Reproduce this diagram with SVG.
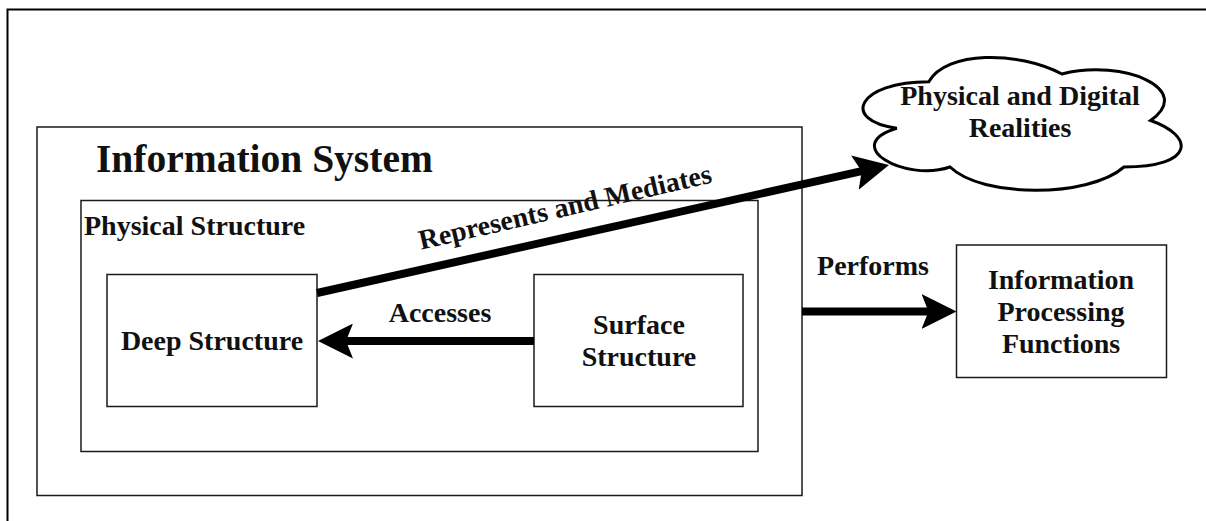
<svg xmlns="http://www.w3.org/2000/svg" width="1206" height="521" viewBox="0 0 1206 521">
  <style>
    .box { fill: #ffffff; stroke: #1a1a1a; stroke-width: 1.5; }
    .lbl { font-family: "Liberation Serif", "Times New Roman", serif; font-weight: bold; font-size: 28px; fill: #111111; }
    .mid { text-anchor: middle; }
    .title { font-size: 39.5px; }
    .edge { fill: none; stroke: #000000; stroke-width: 8; }
  </style>
  <defs>
    <!-- classic notched arrowhead, 35 long, 35 wide; line ends 20 before the tip -->
    <marker id="arrow" markerUnits="userSpaceOnUse" viewBox="0 0 35 35" markerWidth="35" markerHeight="35" refX="15" refY="17.5" orient="auto">
      <path d="M35,17.5 L0,0 L7,17.5 L0,35 Z" fill="#000000"/>
    </marker>
  </defs>

  <rect width="1206" height="521" fill="#ffffff"/>

  <!-- page frame (top and left edges) -->
  <path d="M7.5,521 L7.5,9.5 L1206,9.5" fill="none" stroke="#000000" stroke-width="2"/>

  <g id="information-system">
    <rect class="box" x="37" y="127" width="765" height="368.5"/>
    <text class="lbl title" x="96" y="172">Information System</text>
  </g>

  <g id="physical-structure">
    <rect class="box" x="81" y="200.5" width="677" height="251"/>
    <text class="lbl" x="84" y="235">Physical Structure</text>
  </g>

  <g id="deep-structure">
    <rect class="box" x="107" y="274.5" width="210" height="132"/>
    <text class="lbl mid" x="212" y="350">Deep Structure</text>
  </g>

  <g id="surface-structure">
    <rect class="box" x="534" y="274.5" width="209" height="132"/>
    <text class="lbl mid" x="639" y="334">Surface</text>
    <text class="lbl mid" x="639" y="366">Structure</text>
  </g>

  <g id="information-processing-functions">
    <rect class="box" x="956.5" y="245" width="210" height="132.5"/>
    <text class="lbl mid" x="1061" y="289">Information</text>
    <text class="lbl mid" x="1061" y="321">Processing</text>
    <text class="lbl mid" x="1061" y="353">Functions</text>
  </g>

  <g id="physical-and-digital-realities">
    <path d="M928.75,81.75 C857.75,81.75 840,120.5 896.8,128.25 C840,145.3 903.9,182.5 950.05,167 C982,198 1088.5,198 1124,167 C1195,167 1195,136 1150.6,120.5 C1195,89.5 1124,58.5 1061.9,74 C1017.5,50.75 946.5,50.75 928.75,81.75 Z" fill="#ffffff" stroke="#000000" stroke-width="3"/>
    <text class="lbl mid" x="1020" y="105">Physical and Digital</text>
    <text class="lbl mid" x="1020" y="137">Realities</text>
  </g>

  <g id="connectors">
    <!-- Surface Structure to Deep Structure -->
    <line class="edge" x1="534" y1="341" x2="338" y2="341" marker-end="url(#arrow)"/>
    <text class="lbl mid" x="440" y="322">Accesses</text>

    <!-- Deep Structure to the cloud -->
    <line class="edge" x1="317" y1="293" x2="869.5" y2="169.4" marker-end="url(#arrow)"/>
    <text class="lbl mid" x="567" y="216" transform="rotate(-13 567 216)">Represents and Mediates</text>

    <!-- Information System to Information Processing Functions -->
    <line class="edge" x1="802" y1="311.5" x2="936.5" y2="311.5" marker-end="url(#arrow)"/>
    <text class="lbl mid" x="873" y="275">Performs</text>
  </g>
</svg>
